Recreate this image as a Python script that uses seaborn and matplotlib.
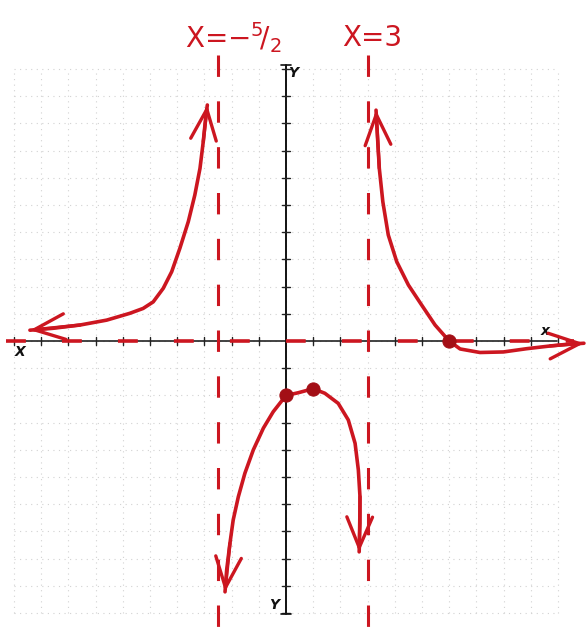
import numpy as np
import matplotlib
matplotlib.use("Agg")
import matplotlib.pyplot as plt
import seaborn as sns

# Hand sketch of a rational function with two vertical asymptotes
asymptote_x = [-2.5, 3.0]
asymptote_labels = [r"X=−$^5\!/_2$", "X=3"]
asymptote_y = 0.0

# Branch left of x = -5/2 (from the far-left arrow up to the top arrow)
left_x = [-9.41, -8.56, -7.57, -6.59, -5.74, -5.25, -4.88, -4.51, -4.20, -3.90,
          -3.59, -3.35, -3.16, -3.04, -2.94, -2.89]
left_y = [0.40, 0.47, 0.59, 0.77, 1.02, 1.20, 1.44, 1.94, 2.55, 3.41,
          4.39, 5.37, 6.35, 7.33, 8.31, 8.68]

# Middle branch between the asymptotes
mid_x = [-2.24, -2.18, -2.06, -1.94, -1.75, -1.51, -1.20, -0.83, -0.47, 0.0,
         0.45, 1.0, 1.43, 1.92, 2.29, 2.54, 2.66, 2.72, 2.72, 2.69]
mid_y = [-9.22, -8.42, -7.44, -6.58, -5.72, -4.86, -4.00, -3.20, -2.60, -2.0,
         -1.90, -1.75, -1.92, -2.29, -2.90, -3.76, -4.74, -5.72, -6.70, -7.75]

# Branch right of x = 3 (from the top arrow out to the right arrow)
right_x = [3.31, 3.36, 3.43, 3.56, 3.76, 4.07, 4.50, 4.99, 5.48, 6.0,
           6.40, 7.13, 7.99, 8.85, 9.71, 10.32, 10.95]
right_y = [8.49, 7.57, 6.35, 5.12, 3.90, 2.92, 2.06, 1.32, 0.59, 0.0,
           -0.29, -0.42, -0.40, -0.28, -0.18, -0.12, -0.08]

# Marked points: y-intercept, turning point, x-intercept
point_x = [0.0, 1.0, 6.0]
point_y = [-2.0, -1.75, 0.0]

grid_range = list(range(-10, 11))

RED = "#cc1620"
DARK_RED = "#a30f16"

sns.set_style("white")
fig = plt.figure(figsize=(5.88, 6.34), dpi=100)
ax = fig.add_axes([0, 0, 1, 1])
ax.set_xlim(-10.51, 11.10)
ax.set_ylim(-10.77, 12.54)
ax.axis("off")

# faint dotted graph-paper grid
for g in grid_range:
    ax.plot([g, g], [-10, 10], color="#d2d2d2", lw=0.8, ls=(0, (1, 4)), zorder=0)
    ax.plot([-10, 10], [g, g], color="#d2d2d2", lw=0.8, ls=(0, (1, 4)), zorder=0)

# coordinate axes with unit ticks
ax.plot([-10.1, 9.95], [0, 0], color="#222222", lw=1.2, zorder=2)
ax.plot([0, 0], [-10.05, 10.15], color="#111111", lw=1.4, zorder=2)
t = 0.16
for g in grid_range:
    if g == 0:
        continue
    ax.plot([g, g], [-t, t], color="#222222", lw=1.0, zorder=2)
    ax.plot([-t, t], [g, g], color="#222222", lw=1.0, zorder=2)
ax.plot([-0.2, 0.2], [10.15, 10.15], color="#111111", lw=1.2, zorder=2)
ax.plot([-0.2, 0.2], [-10.05, -10.05], color="#111111", lw=1.2, zorder=2)

lab = dict(color="#111111", fontsize=10, fontweight="bold", fontstyle="italic",
           ha="center", va="center", zorder=3)
ax.text(-9.78, -0.42, "X", **lab)
ax.text(9.52, 0.38, "x", **lab)
ax.text(0.28, 9.85, "Y", **lab)
ax.text(-0.42, -9.7, "Y", **lab)

# dashed asymptotes
label_x = [-1.93, 3.18]
for xa, lx, txt in zip(asymptote_x, label_x, asymptote_labels):
    ax.plot([xa, xa], [10.5, -11.0], color=RED, lw=2.2, ls=(0, (7, 8)), zorder=3)
    ax.text(lx, 11.15, txt, color=RED, fontsize=20, ha="center", va="center",
            family="DejaVu Sans")
ax.plot([-10.3, 10.6], [asymptote_y, asymptote_y], color=RED, lw=2.6,
        ls=(0, (5.5, 10)), zorder=3)

# the three branches
for bx, by in [(left_x, left_y), (mid_x, mid_y), (right_x, right_y)]:
    sns.lineplot(x=bx, y=by, sort=False, estimator=None, color=RED, lw=2.6,
                 ax=ax, zorder=4)

# open arrowheads at the branch ends
arrow_kw = dict(arrowstyle="->,head_length=1.0,head_width=0.42", color=RED, lw=2.4,
                mutation_scale=22, shrinkA=0, shrinkB=0)
ends = [
    (left_x[0], left_y[0], left_x[2], left_y[2]),
    (left_x[-1], left_y[-1], left_x[-3], left_y[-3]),
    (mid_x[0], mid_y[0], mid_x[2], mid_y[2]),
    (mid_x[-1], mid_y[-1], mid_x[-3], mid_y[-3]),
    (right_x[0], right_y[0], right_x[2], right_y[2]),
    (right_x[-1], right_y[-1], right_x[-3], right_y[-3]),
]
for tx, ty, sx, sy in ends:
    ax.annotate("", xy=(tx, ty), xytext=(sx, sy), arrowprops=arrow_kw, zorder=5)

sns.scatterplot(x=point_x, y=point_y, s=90, color=DARK_RED, edgecolor=DARK_RED,
                ax=ax, zorder=6)

fig.savefig("out.png", dpi=100)
